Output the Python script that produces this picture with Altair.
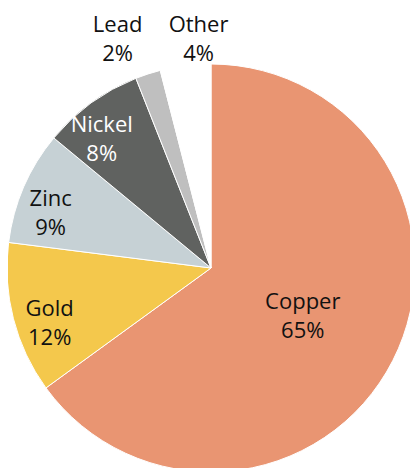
import altair as alt
import pandas as pd
import math

categories = ["Copper", "Gold", "Zinc", "Nickel", "Lead", "Other"]
shares = [65, 12, 9, 8, 2, 4]
colors = ["#E99572", "#F4C84C", "#C6D1D5", "#606260", "#BFBFBF", "#FFFFFF"]
text_colors = ["#111111", "#111111", "#111111", "#FFFFFF", "#111111", "#111111"]

R = 204
CX, CY = 203, 260
FS, LH = 22, 29
MIN_SEP = 19.0  # minimum angular separation (deg) for outside labels
GAP = 10        # clearance between pie edge and outside label box
TOP_LIMIT = 30  # lowest allowed anchor y (keeps text inside the canvas)


def label_radius(v):
    if v >= 50:
        return 103
    return 170


def outside_radius(label, ang_deg):
    # place label box so that its nearest point sits GAP px outside the pie
    half_w = max(len(s) for s in label.split("\n")) * 0.55 * FS / 2
    half_h = 28
    ux, uy = math.sin(math.radians(ang_deg)), -math.cos(math.radians(ang_deg))
    lo, hi = 0.0, 600.0
    for _ in range(60):
        t = (lo + hi) / 2
        cx, cy = ux * t, uy * t
        nx = min(max(0.0, cx - half_w), cx + half_w)
        ny = min(max(0.0, cy - half_h), cy + half_h)
        if math.hypot(nx, ny) < R + GAP:
            lo = t
        else:
            hi = t
    t = hi
    if uy < 0:
        t = min(t, (CY - TOP_LIMIT) / -uy)
    return t


total = sum(shares)
mids_deg = []
acc = 0
for v in shares:
    mids_deg.append((acc + v / 2) / total * 360)
    acc += v

labels = [f"{c}\n{v}%" for c, v in zip(categories, shares)]

angles = []
for v, m in zip(shares, mids_deg):
    angles.append(m - 4 if 8 <= v < 50 else m)
outer = [i for i, v in enumerate(shares) if v < 8]
for a, b in zip(outer, outer[1:]):
    if angles[b] - angles[a] < MIN_SEP:
        mean = (angles[a] + angles[b]) / 2
        angles[a] = mean - MIN_SEP / 2
        angles[b] = mean + MIN_SEP / 2

radii = [outside_radius(l, a) if v < 8 else label_radius(v)
         for l, a, v in zip(labels, angles, shares)]

df = pd.DataFrame({
    "cat": categories,
    "value": shares,
    "idx": list(range(len(categories))),
    "label": labels,
    "lr": radii,
    "ang": [math.radians(a) for a in angles],
    "tc": text_colors,
})

arcs = alt.Chart(df).mark_arc(radius=R, stroke="#FFFFFF", strokeWidth=1).encode(
    theta=alt.Theta("value:Q", stack=True),
    order=alt.Order("idx:Q", sort="ascending"),
    x=alt.value(CX),
    y=alt.value(CY),
    color=alt.Color("cat:N", scale=alt.Scale(domain=categories, range=colors), legend=None),
)

texts = alt.Chart(df).mark_text(font="Open Sans", fontSize=FS, lineBreak="\n", lineHeight=LH,
                                align="center", baseline="middle", dy=-13).encode(
    theta=alt.Theta("ang:Q", scale=None, stack=None),
    radius=alt.Radius("lr:Q", scale=None),
    x=alt.value(CX),
    y=alt.value(CY),
    text="label:N",
    color=alt.Color("tc:N", scale=None),
)

chart = (arcs + texts).properties(
    width=402, height=460, padding=0, autosize=alt.AutoSizeParams(type="none")
).configure_view(stroke=None)

chart.save("out.html", embed_options={"renderer": "svg", "actions": False})
